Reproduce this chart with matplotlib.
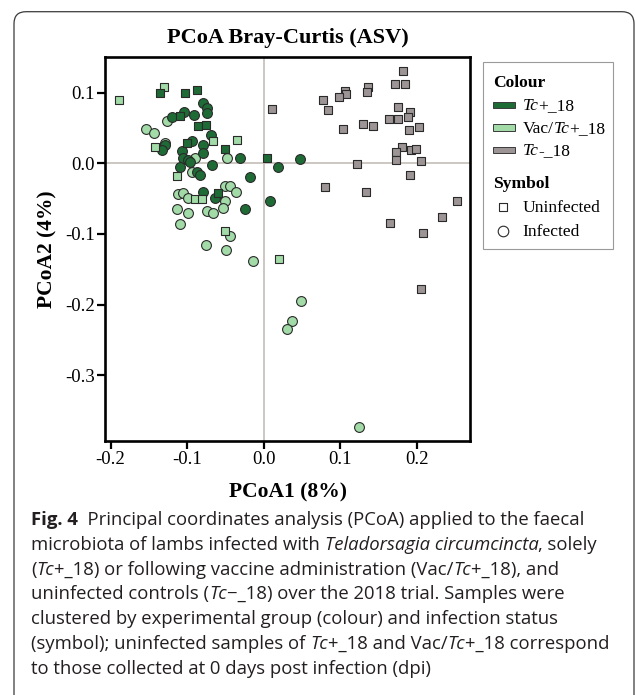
import matplotlib
matplotlib.use("Agg")
import matplotlib.pyplot as plt
from matplotlib.patches import FancyBboxPatch, Rectangle

# ---------------- data ----------------
# Tc+_18 (dark green)
tcpos_uninf_x = [-0.1354, -0.1027, -0.0875, -0.1093, -0.0862, -0.0757, -0.1005, -0.0505, 0.0045, -0.0593]
tcpos_uninf_y = [0.100, 0.100, 0.104, 0.067, 0.053, 0.054, 0.029, 0.020, 0.0075, -0.042]
tcpos_inf_x = [-0.0788, -0.0744, -0.0736, -0.1193, -0.1040, -0.0906, -0.0692, -0.1288, -0.1332, -0.0940,
               -0.0788, -0.0788, -0.1070, -0.0309, -0.1057, -0.0984, -0.0962, -0.0679, -0.1093, -0.0875,
               -0.0832, -0.0179, -0.0788, -0.0636, -0.0244, 0.0087, 0.0183, 0.0474]
tcpos_inf_y = [0.085, 0.078, 0.071, 0.065, 0.073, 0.069, 0.040, 0.026, 0.019, 0.031,
               0.026, 0.015, 0.018, 0.008, 0.007, 0.005, 0.002, -0.003, -0.005, -0.012,
               -0.017, -0.019, -0.040, -0.049, -0.065, -0.054, -0.005, 0.006]
# Vac/Tc+_18 (light green)
vac_uninf_x = [-0.189, -0.130, -0.0658, -0.0345, -0.1415, -0.1128, -0.0897, -0.0810, -0.0505, 0.0196]
vac_uninf_y = [0.089, 0.108, 0.032, 0.033, 0.023, -0.018, -0.051, -0.051, -0.096, -0.136]
vac_inf_x = [-0.1537, -0.1428, -0.1258, -0.1289, -0.0483, -0.0897, -0.0940, -0.1115, -0.1057, -0.0984,
             -0.0505, -0.0440, -0.0366, -0.0505, -0.1128, -0.0992, -0.0744, -0.0666, -0.0527, -0.1093,
             -0.0440, -0.0753, -0.0492, -0.0136, 0.0487, 0.0374, 0.0300, 0.1244]
vac_inf_y = [0.048, 0.0425, 0.060, 0.029, 0.007, 0.007, -0.012, -0.0435, -0.0425, -0.0487,
             -0.032, -0.032, -0.041, -0.053, -0.065, -0.071, -0.068, -0.071, -0.064, -0.086,
             -0.103, -0.116, -0.123, -0.138, -0.195, -0.224, -0.235, -0.373]
# Tc-_18 (grey, all uninfected)
tcneg_x = [0.1815, 0.1718, 0.1845, 0.1366, 0.1352, 0.1066, 0.1075, 0.0987, 0.0778, 0.0835,
           0.0108, 0.1749, 0.1910, 0.1888, 0.1640, 0.1749, 0.1296, 0.1431, 0.1039, 0.1897,
           0.2031, 0.1801, 0.1723, 0.1923, 0.1984, 0.1727, 0.2054, 0.1218, 0.1914, 0.0804,
           0.1332, 0.2520, 0.2328, 0.1645, 0.2084, 0.2050]
tcneg_y = [0.131, 0.112, 0.113, 0.1085, 0.1006, 0.1028, 0.0982, 0.0935, 0.0897, 0.0755,
           0.0765, 0.0802, 0.0731, 0.066, 0.0623, 0.0623, 0.0552, 0.0533, 0.0482, 0.0467,
           0.051, 0.0227, 0.0164, 0.0188, 0.0203, 0.0047, 0.0037, -0.001, -0.017, -0.034,
           -0.0402, -0.0538, -0.0761, -0.0841, -0.0992, -0.178]

x_ticks = [-0.2, -0.1, 0.0, 0.1, 0.2]
y_ticks = [-0.3, -0.2, -0.1, 0.0, 0.1]
x_ticklabels = ["-0.2", "-0.1", "0.0", "0.1", "0.2"]
y_ticklabels = ["-0.3", "-0.2", "-0.1", "0.0", "0.1"]

title = "PCoA Bray-Curtis (ASV)"
xlabel = "PCoA1 (8%)"
ylabel = "PCoA2 (4%)"

C_DARK = "#1e6b36"
C_LIGHT = "#a2dba8"
C_GREY = "#9d9595"
EDGE = "#2a2a2a"
SERIF = ["Liberation Serif", "DejaVu Serif"]
SANS = ["Open Sans", "DejaVu Sans"]

W, H = 635, 695
fig = plt.figure(figsize=(W / 100, H / 100), dpi=100)
fig.patch.set_facecolor("white")

# overlay in pixel coordinates for decorations
ov = fig.add_axes([0, 0, 1, 1], zorder=0)
ov.set_xlim(0, W)
ov.set_ylim(H, 0)
ov.axis("off")

# main axes
L, R, T, B = 105.3, 470.0, 56.7, 441.0
ax = fig.add_axes([L / W, 1 - B / H, (R - L) / W, (B - T) / H], zorder=2)
ax.set_xlim(-0.2068, 0.2693)
ax.set_ylim(-0.3933, 0.151)
ax.axhline(0, color="#c9c3bd", lw=1.3, zorder=1)
ax.axvline(0, color="#c9c3bd", lw=1.3, zorder=1)

cs, ss = 50, 33
ax.scatter(vac_inf_x, vac_inf_y, s=cs, marker="o", c=C_LIGHT, edgecolors=EDGE, linewidths=0.8, zorder=3)
ax.scatter(tcpos_inf_x, tcpos_inf_y, s=cs, marker="o", c=C_DARK, edgecolors=EDGE, linewidths=0.8, zorder=4)
ax.scatter(tcneg_x, tcneg_y, s=ss, marker="s", c=C_GREY, edgecolors=EDGE, linewidths=0.8, zorder=5)
ax.scatter(vac_uninf_x, vac_uninf_y, s=ss, marker="s", c=C_LIGHT, edgecolors=EDGE, linewidths=0.8, zorder=5)
ax.scatter(tcpos_uninf_x, tcpos_uninf_y, s=ss, marker="s", c=C_DARK, edgecolors=EDGE, linewidths=0.8, zorder=6)

ax.set_xticks(x_ticks)
ax.set_xticklabels(x_ticklabels, family=SERIF, fontsize=13.5)
ax.set_yticks(y_ticks)
ax.set_yticklabels(y_ticklabels, family=SERIF, fontsize=13.5)
ax.tick_params(direction="out", length=5.5, width=1.6, pad=2, color="black")
for sp in ax.spines.values():
    sp.set_linewidth(1.9)
    sp.set_color("black")

# titles / labels
ov.text((L + R) / 2, 43.3, title, ha="center", va="baseline", family=SERIF,
        fontweight="bold", fontsize=16)
ov.text((L + R) / 2, 497, xlabel, ha="center", va="baseline", family=SERIF,
        fontweight="bold", fontsize=15.5)
ov.text(47, (T + B) / 2, ylabel, ha="center", va="center", rotation=90, family=SERIF,
        fontweight="bold", fontsize=15.5)

# outer rounded frame
frame = FancyBboxPatch((14, 11.7), 620, 760, boxstyle="round,pad=0,rounding_size=12",
                       fc="none", ec="#3a3a3a", lw=0.9, clip_on=False)
ov.add_patch(frame)

# legend
ov.add_patch(Rectangle((482.5, 62.3), 130.8, 187, fc="white", ec="#9a9a9a", lw=0.8))
lfs = 12.6
ov.text(493.3, 87.3, "Colour", family=SERIF, fontweight="bold", fontsize=lfs, va="baseline")
ov.text(493.3, 188.3, "Symbol", family=SERIF, fontweight="bold", fontsize=lfs, va="baseline")

renderer = fig.canvas.get_renderer()


def seg_width(txt, **kw):
    a = ov.text(0, 0, "x" + txt + "x", **kw)
    b = ov.text(0, 0, "xx", **kw)
    w = a.get_window_extent(renderer).width - b.get_window_extent(renderer).width
    a.remove()
    b.remove()
    return w


def draw_segments(x0, y, segs, **common):
    x = x0
    for txt, st in segs:
        kw = dict(common)
        if st == "b":
            kw["fontweight"] = "bold"
        elif st == "i":
            kw["style"] = "italic"
        ov.text(x, y, txt, va="baseline", ha="left", **kw)
        x += seg_width(txt, **kw)
    return x


legend_rows = [
    (C_DARK, 110.0, [("Tc", "i"), ("+_18", "n")]),
    (C_LIGHT, 132.7, [("Vac/", "n"), ("Tc", "i"), ("+_18", "n")]),
    (C_GREY, 155.0, [("Tc", "i"), ("-_18", "n")]),
]
for col, yb, segs in legend_rows:
    ov.add_patch(Rectangle((493.3, yb - 8.3), 21.7, 6.7, fc=col, ec="#3a3a3a", lw=0.7))
    draw_segments(522.7, yb, segs, family=SERIF, fontsize=lfs)

ov.scatter([503.3], [206.7], s=30, marker="s", facecolors="white", edgecolors="#2a2a2a", linewidths=0.8)
ov.scatter([503.3], [230.7], s=58, marker="o", facecolors="white", edgecolors="#2a2a2a", linewidths=0.8)
ov.text(522.3, 211.7, "Uninfected", family=SERIF, fontsize=lfs, va="baseline")
ov.text(522.3, 236.0, "Infected", family=SERIF, fontsize=lfs, va="baseline")

# caption
caption = [
    [("Fig. 4", "b"), ("  Principal coordinates analysis (PCoA) applied to the faecal", "n")],
    [("microbiota of lambs infected with ", "n"), ("Teladorsagia circumcincta", "i"), (", solely", "n")],
    [("(", "n"), ("Tc", "i"), ("+_18) or following vaccine administration (Vac/", "n"), ("Tc", "i"),
     ("+_18), and", "n")],
    [("uninfected controls (", "n"), ("Tc", "i"), ("\u2212_18) over the 2018 trial. Samples were", "n")],
    [("clustered by experimental group (colour) and infection status", "n")],
    [("(symbol); uninfected samples of ", "n"), ("Tc", "i"), ("+_18 and Vac/", "n"), ("Tc", "i"),
     ("+_18 correspond", "n")],
    [("to those collected at 0 days post infection (dpi)", "n")],
]


def line_width(segs, size):
    w = 0
    for txt, st in segs:
        kw = dict(family=SANS, fontsize=size)
        if st == "b":
            kw["fontweight"] = "bold"
        elif st == "i":
            kw["style"] = "italic"
        w += seg_width(txt, **kw)
    return w


target_w = 580 - 31
base = 12.0
cap_fs = base * target_w / line_width(caption[0], base)
y0, dy = 525.0, 24.8
for k, segs in enumerate(caption):
    draw_segments(31, y0 + k * dy, segs, family=SANS, fontsize=cap_fs, color="#231f20")

fig.savefig("out.png", dpi=100, facecolor="white")
